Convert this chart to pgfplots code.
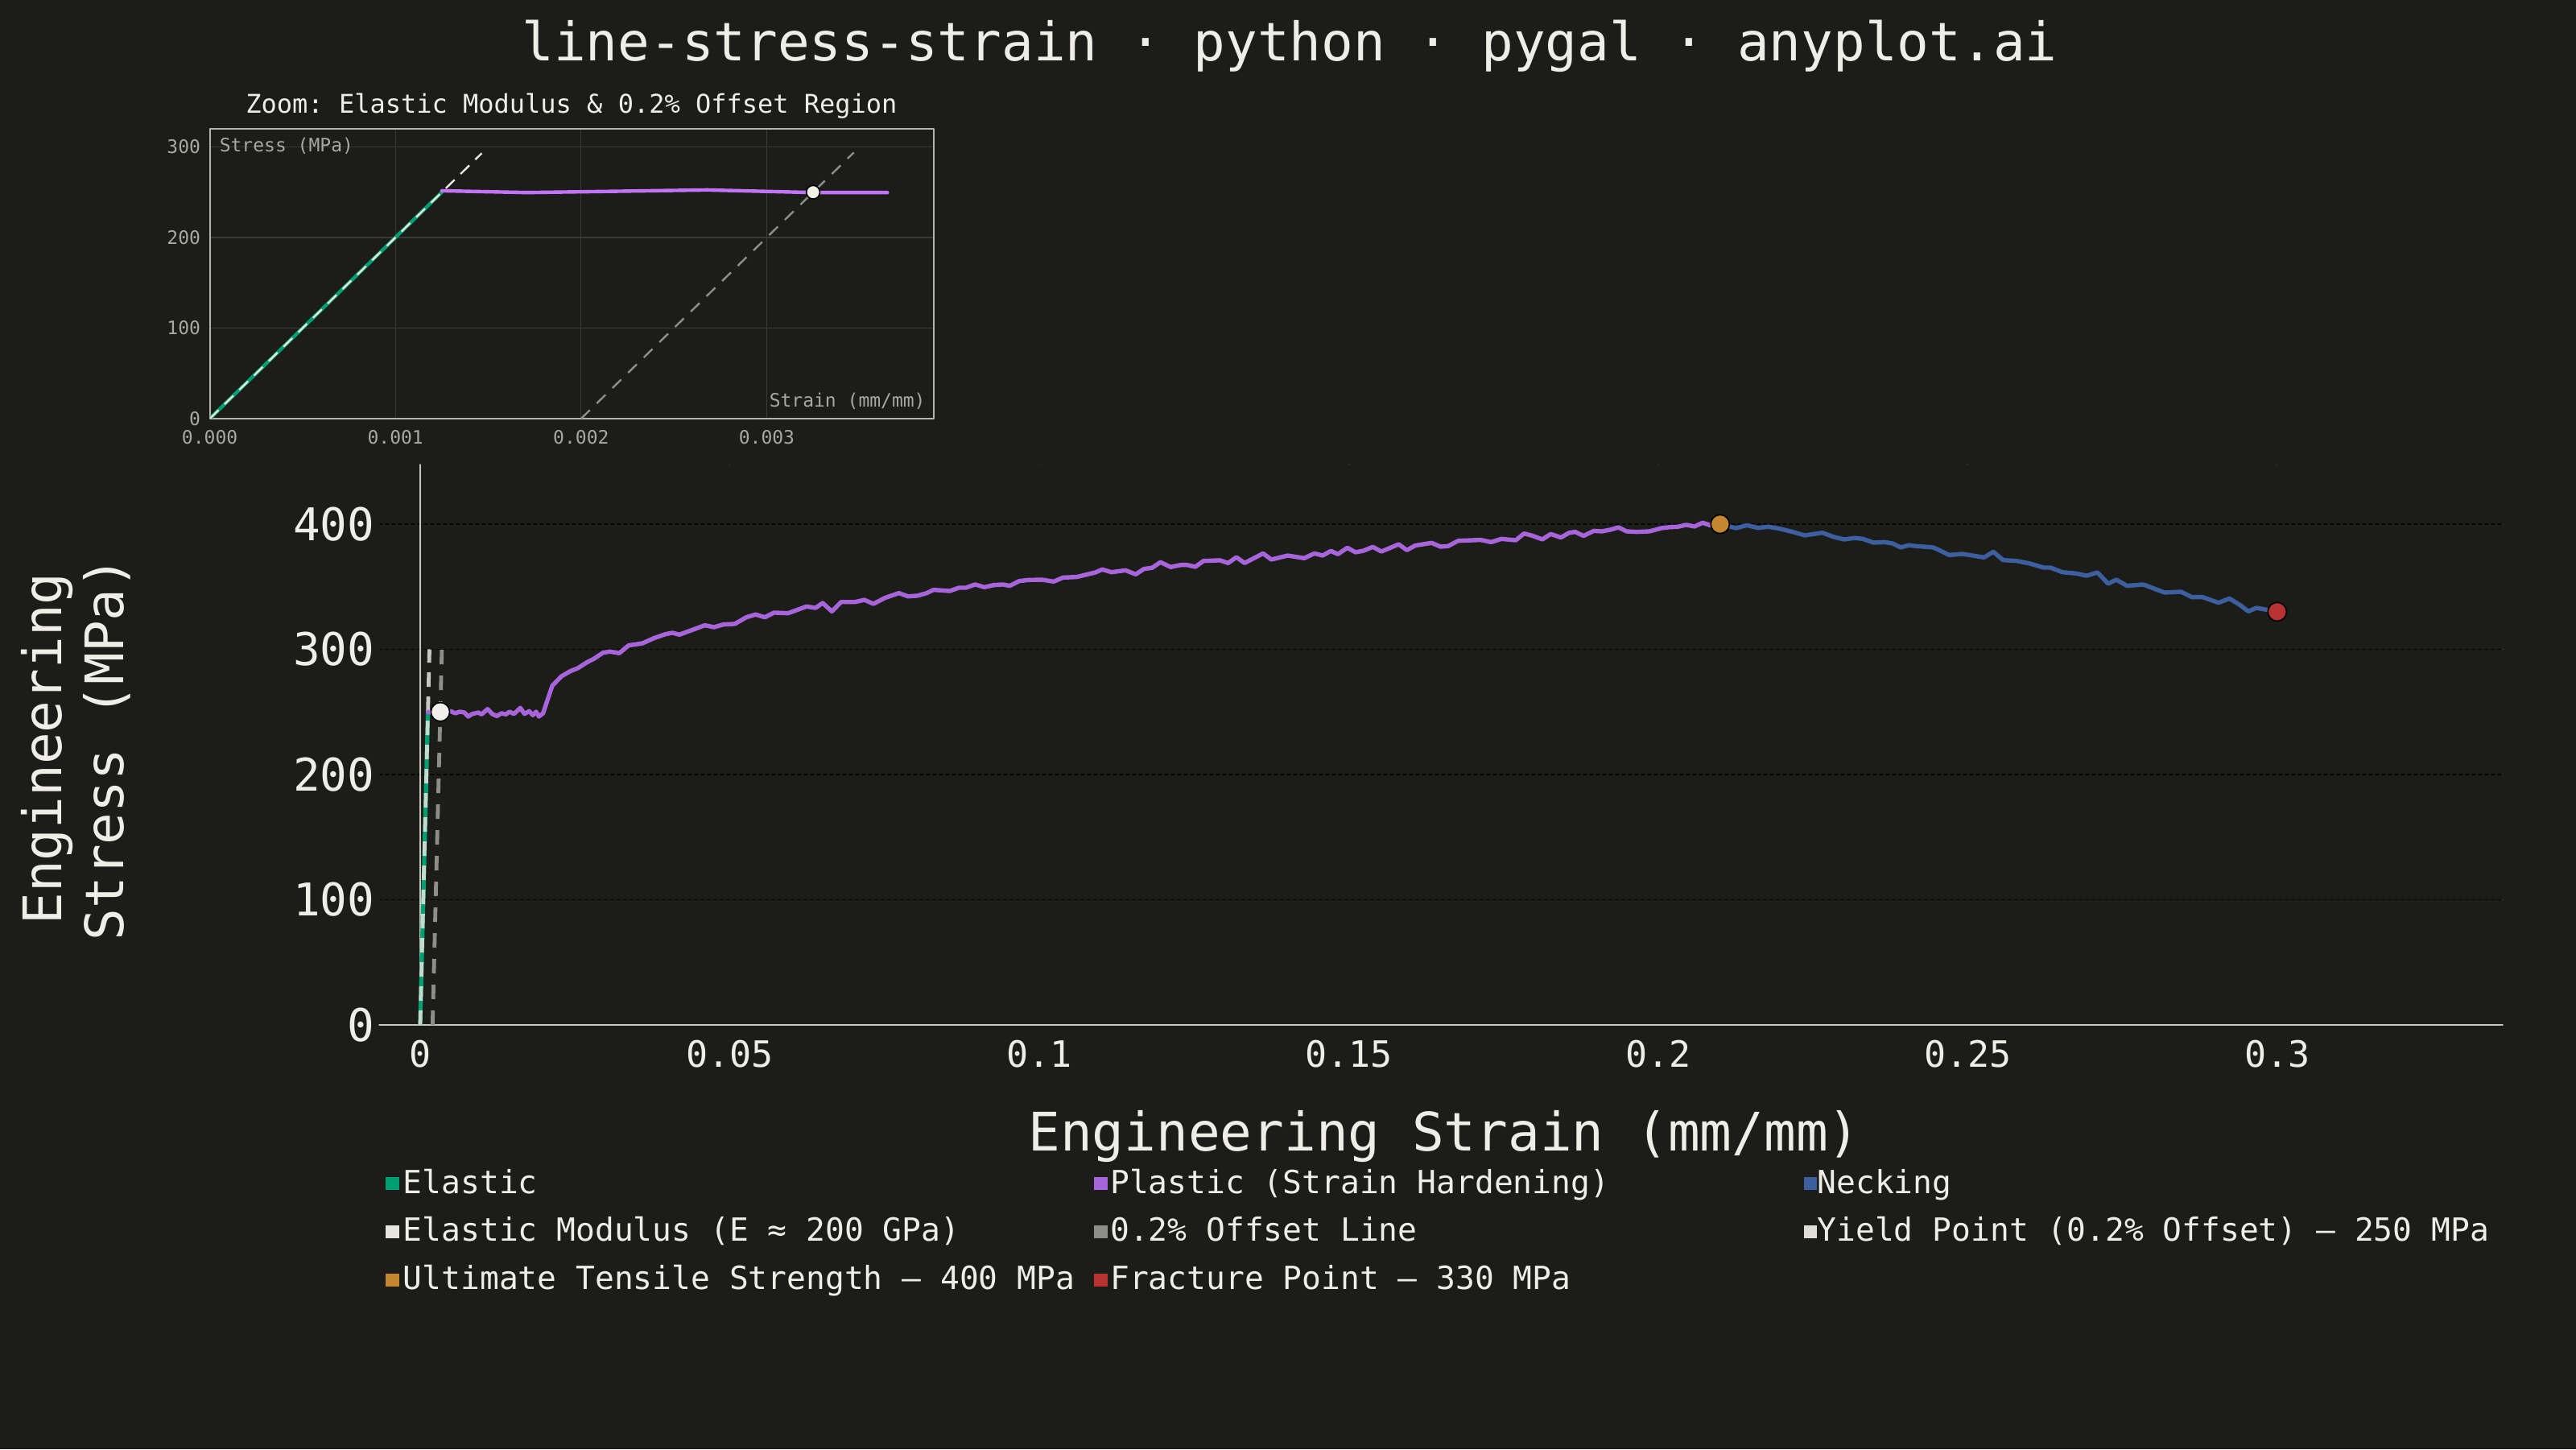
\documentclass[border=0pt]{standalone}
\usepackage{pgfplots}
\pgfplotsset{compat=1.18}
\usepackage{pgfplotstable}
\usepackage{fontspec}
\setmainfont{DejaVu Sans Mono}
\frenchspacing
\definecolor{bg}{HTML}{1C1C19}
\definecolor{txt}{HTML}{EEEDE6}
\definecolor{tickgray}{HTML}{A8A8A0}
\definecolor{framec}{HTML}{B5B5AD}
\definecolor{igrid}{HTML}{3A3A36}
\definecolor{gridc}{HTML}{060606}
\definecolor{axc}{HTML}{C8C8C0}
\definecolor{elastic}{HTML}{009E73}
\definecolor{plastic}{HTML}{A865DB}
\definecolor{plasticI}{HTML}{C273F7}
\definecolor{necking}{HTML}{3D5FA0}
\definecolor{modc}{HTML}{E6E6DE}
\definecolor{offc}{HTML}{8E8E88}
\definecolor{yieldc}{HTML}{F0F0E8}
\definecolor{utsc}{HTML}{C4862F}
\definecolor{fracc}{HTML}{B83232}

\pgfplotstableread{
x y
0.00125 250.0
0.00171 249.6
0.00268 252.5
0.00325 249.6
0.00365 249.6
0.00492 250.6
0.00566 248.9
0.00640 250.2
0.00715 249.5
0.00775 246.3
0.00842 248.4
0.00939 249.5
0.00991 248.0
0.01089 252.3
0.01163 248.4
0.01238 246.7
0.01313 248.9
0.01387 248.0
0.01440 250.2
0.01514 248.4
0.01618 253.2
0.01685 248.4
0.01761 250.6
0.01820 247.4
0.01873 250.2
0.01917 246.3
0.01985 248.9
0.02134 270.9
0.02283 278.5
0.02432 282.7
0.02545 284.9
0.02694 289.6
0.02806 292.4
0.02955 297.3
0.03067 298.2
0.03217 296.9
0.03366 303.1
0.03590 304.8
0.03776 308.9
0.03963 312.1
0.04075 313.2
0.04187 311.7
0.04374 315.1
0.04598 319.2
0.04747 317.7
0.04896 319.8
0.05083 320.3
0.05269 325.6
0.05419 327.8
0.05568 325.6
0.05718 329.3
0.05942 328.8
0.06240 334.2
0.06389 333.1
0.06501 337.0
0.06651 330.3
0.06800 337.8
0.07024 337.8
0.07174 339.5
0.07323 336.3
0.07509 341.1
0.07733 344.9
0.07882 342.3
0.08032 342.8
0.08182 344.9
0.08293 347.5
0.08555 346.6
0.08704 349.2
0.08816 349.2
0.08966 351.8
0.09115 349.6
0.09264 351.3
0.09413 351.8
0.09525 350.7
0.09675 354.5
0.09824 355.4
0.10048 355.6
0.10234 354.1
0.10384 357.3
0.10607 357.8
0.10907 361.4
0.11018 363.8
0.11168 361.6
0.11394 363.1
0.11560 359.9
0.11692 364.2
0.11825 365.1
0.11958 369.6
0.12124 365.7
0.12289 367.4
0.12389 367.4
0.12522 365.9
0.12655 370.6
0.12920 371.1
0.13053 368.9
0.13186 373.6
0.13318 368.9
0.13617 376.6
0.13750 371.7
0.14015 374.9
0.14281 372.8
0.14447 376.6
0.14580 374.9
0.14712 378.6
0.14825 376.0
0.14978 381.1
0.15111 377.5
0.15243 378.8
0.15389 381.8
0.15528 378.1
0.15808 383.9
0.15940 379.2
0.16073 382.9
0.16338 385.0
0.16484 382.0
0.16604 382.4
0.16769 386.7
0.17134 387.4
0.17300 385.6
0.17466 388.2
0.17699 387.1
0.17832 392.5
0.17964 390.8
0.18130 387.8
0.18262 392.1
0.18429 389.3
0.18561 393.1
0.18660 393.8
0.18793 390.6
0.18960 394.6
0.19092 394.2
0.19225 395.5
0.19358 397.4
0.19491 394.2
0.19657 393.8
0.19856 394.2
0.20055 396.8
0.20188 397.6
0.20320 397.9
0.20453 399.4
0.20586 398.1
0.20718 401.1
0.20851 398.9
0.21000 400.0
}\plastictab

\pgfplotstableread{
x y
0.21000 400.0
0.21259 396.8
0.21433 399.1
0.21608 397.0
0.21782 397.9
0.21956 396.4
0.22173 393.8
0.22366 391.0
0.22653 393.1
0.22827 389.9
0.23001 387.8
0.23175 388.9
0.23306 388.2
0.23481 385.2
0.23655 385.6
0.23785 384.6
0.23916 381.4
0.24047 383.1
0.24177 382.4
0.24438 381.4
0.24525 379.6
0.24700 375.3
0.24917 376.2
0.25265 373.4
0.25413 377.9
0.25571 371.3
0.25788 370.6
0.26006 368.5
0.26224 365.3
0.26337 365.3
0.26528 361.6
0.26747 360.6
0.26921 358.8
0.27095 361.4
0.27269 352.4
0.27400 355.6
0.27574 350.7
0.27835 351.8
0.28183 345.3
0.28444 346.0
0.28619 341.7
0.28793 341.7
0.29054 337.2
0.29228 340.6
0.29402 335.3
0.29533 330.3
0.29664 333.1
0.30000 330.0
}\neckingtab

\pgfplotstableread{
x y
0.00125 251.6
0.00171 249.6
0.00268 252.5
0.00325 249.6
0.00365 249.6
}\insettab

\begin{document}
\begin{tikzpicture}[x=1pt,y=1pt]
\path[use as bounding box, fill=bg] (0,0) rectangle (800,450);

% ---------- main axis ----------
\begin{axis}[
  at={(117.75pt,131.75pt)}, anchor=south west,
  width=659.5pt, height=174pt, scale only axis,
  xmin=-0.00663, xmax=0.33644, ymin=0, ymax=447.6,
  axis line style={draw=none},
  major tick length=0pt,
  scaled x ticks=false, scaled y ticks=false,
  xtick={0,0.05,0.1,0.15,0.2,0.25,0.3},
  xticklabels={0,0.05,0.1,0.15,0.2,0.25,0.3},
  ytick={0,100,200,300,400},
  yticklabels={0,100,200,300,400},
  ymajorgrids,
  major grid style={draw=gridc, dash pattern=on 1pt off 1pt, line width=0.3pt},
  x tick label style={font=\fontsize{11.25}{12}\selectfont, text=txt, inner sep=0pt, anchor=north, yshift=-4.5pt},
  y tick label style={font=\fontsize{14}{15}\selectfont, text=txt, inner sep=0pt, anchor=east, xshift=-1.25pt},
  extra x ticks={0}, extra x tick labels={},
  extra x tick style={grid=major, major grid style={draw=axc, solid, line width=0.4pt}},
  extra y ticks={0}, extra y tick labels={},
  extra y tick style={grid=major, major grid style={draw=axc, solid, line width=0.4pt}},
  line join=round, line cap=round,
]
\addplot[elastic, line width=1.3pt, forget plot] coordinates {(0,0) (0.00125,250)};
\addplot[modc, opacity=0.85, line width=1.2pt, line cap=butt, dash pattern=on 4.5pt off 3pt, forget plot] coordinates {(0,0) (0.0015,300)};
\addplot[offc, line width=1.2pt, line cap=butt, dash pattern=on 4.5pt off 3.5pt, forget plot] coordinates {(0.002,0) (0.0035,300)};
\addplot[plastic, line width=1.35pt, forget plot] table[x=x,y=y] {\plastictab};
\addplot[necking, line width=1.35pt, forget plot] table[x=x,y=y] {\neckingtab};
\addplot[only marks, mark=*, mark size=2.9pt, mark options={fill=yieldc, draw=none}, forget plot] coordinates {(0.00325,250)};
\addplot[only marks, mark=*, mark size=2.9pt, mark options={fill=utsc, draw=none}, forget plot] coordinates {(0.21,400)};
\addplot[only marks, mark=*, mark size=2.9pt, mark options={fill=fracc, draw=none}, forget plot] coordinates {(0.3,330)};
\end{axis}

% ---------- inset axis ----------
\begin{axis}[
  at={(65.15pt,320pt)}, anchor=south west,
  width=224.85pt, height=90pt, scale only axis,
  xmin=0, xmax=0.0039, ymin=0, ymax=320,
  axis line style={draw=framec, line width=0.5pt},
  major tick length=0pt,
  scaled x ticks=false, scaled y ticks=false,
  xtick={0,0.001,0.002,0.003},
  xticklabels={0.000,0.001,0.002,0.003},
  ytick={0,100,200,300},
  yticklabels={0,100,200,300},
  grid=major,
  major grid style={draw=igrid, solid, line width=0.3pt},
  tick label style={font=\fontsize{5.75}{6}\selectfont, text=tickgray, inner sep=0pt},
  x tick label style={anchor=north, yshift=-3.3pt},
  y tick label style={anchor=east, xshift=-2.7pt},
  line join=round, line cap=round,
]
\addplot[elastic, line width=1.1pt, forget plot] coordinates {(0,0) (0.00125,250)};
\addplot[modc, line width=0.6pt, line cap=butt, dash pattern=on 3.8pt off 2.6pt, forget plot] coordinates {(0,0) (0.001465,293)};
\addplot[offc, line width=0.6pt, line cap=butt, dash pattern=on 3.8pt off 3pt, forget plot] coordinates {(0.002,0) (0.003469,293.8)};
\addplot[plasticI, line width=1.1pt, forget plot] table[x=x,y=y] {\insettab};
\addplot[only marks, mark=*, mark size=2.1pt, mark options={fill=yieldc, draw=none}, forget plot] coordinates {(0.00325,250)};
\end{axis}

% ---------- texts ----------
\node[anchor=base, text=txt, font=\fontsize{16.5}{18}\selectfont, inner sep=0pt] at (400.5,431) {line-stress-strain · python · pygal · anyplot.ai};
\node[anchor=center, text=txt, font=\fontsize{8}{9}\selectfont, inner sep=0pt] at (177.5,417.1) {Zoom: Elastic Modulus \& 0.2\% Offset Region};
\node[anchor=west, text=tickgray, font=\fontsize{5.75}{6}\selectfont, inner sep=0pt] at (68,404.6) {Stress (MPa)};
\node[anchor=east, text=tickgray, font=\fontsize{5.75}{6}\selectfont, inner sep=0pt] at (287.6,325.5) {Strain (mm/mm)};

\node[anchor=base, text=txt, font=\fontsize{16.5}{18}\selectfont, inner sep=0pt] at (448.5,92.75) {Engineering Strain (mm/mm)};
\node[anchor=base, rotate=90, text=txt, font=\fontsize{16.5}{18}\selectfont, inner sep=0pt] at (19.2,217.5) {Engineering};
\node[anchor=base, rotate=90, text=txt, font=\fontsize{16.5}{18}\selectfont, inner sep=0pt] at (38.4,217.5) {Stress (MPa)};

% ---------- legend ----------
\begin{scope}[every node/.style={anchor=base west, text=txt, font=\fontsize{9.9}{11}\selectfont, inner sep=0pt}]
\fill[elastic] (119.75,80.5) rectangle (124,84.5);
\node at (125,79.5) {Elastic};
\fill[plastic] (339.75,80.5) rectangle (344,84.5);
\node at (344.6,79.5) {Plastic (Strain Hardening)};
\fill[necking] (560.25,80.5) rectangle (564.25,84.5);
\node at (564.2,79.5) {Necking};
\fill[modc] (119.75,65.5) rectangle (124,69.5);
\node at (125,64.6) {Elastic Modulus (E ≈ 200 GPa)};
\fill[offc] (339.75,65.5) rectangle (344,69.5);
\node at (344.6,64.6) {0.2\% Offset Line};
\fill[yieldc!85!gray] (560.25,65.5) rectangle (564.25,69.5);
\node at (564.2,64.6) {Yield Point (0.2\% Offset) — 250 MPa};
\fill[utsc] (119.75,50.5) rectangle (124,54.5);
\node at (125,49.6) {Ultimate Tensile Strength — 400 MPa};
\fill[fracc] (339.75,50.5) rectangle (344,54.5);
\node at (344.6,49.6) {Fracture Point — 330 MPa};
\end{scope}
\end{tikzpicture}
\end{document}
